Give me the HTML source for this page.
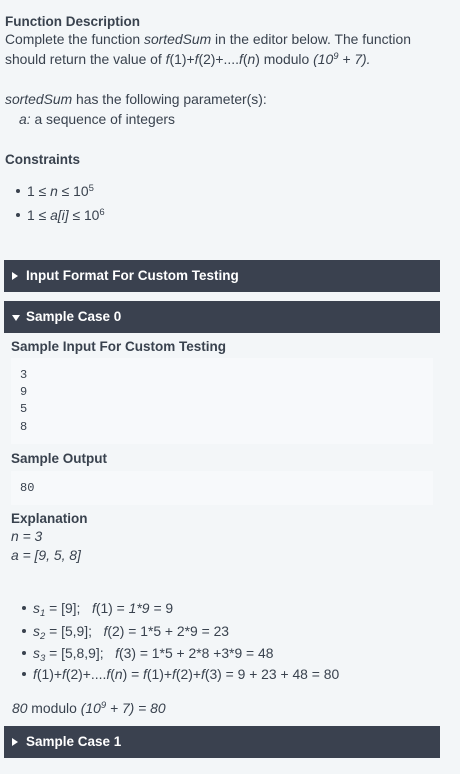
<!DOCTYPE html>
<html><head><style>
body{margin:0;width:460px;height:774px;background:#f3f6f8;position:relative;overflow:hidden;font-family:"Liberation Sans","DejaVu Sans",sans-serif;font-size:13.9px;color:#39424e}
.l{position:absolute;left:5px;line-height:18px;white-space:nowrap}
b{font-weight:bold;font-size:13.5px}
.bar{position:absolute;left:4px;width:436px;height:32px;background:#3a414f;color:#fff;font-weight:bold;font-size:13.5px;line-height:32px}
.bar span{position:absolute;left:22px}
.tri{position:absolute;left:8px;top:12px;width:0;height:0;border-top:4px solid transparent;border-bottom:4px solid transparent;border-left:6px solid #fff}
.trid{position:absolute;left:8px;top:14px;width:0;height:0;border-left:4px solid transparent;border-right:4px solid transparent;border-top:6px solid #fff}
.code{position:absolute;left:11px;width:422px;background:#f7f9fb;font-family:"Liberation Mono",monospace;font-size:12px}
.m{position:absolute;left:9px;line-height:17px}
.dot{display:inline-block;width:4px;height:4px;border-radius:2px;background:#39424e;margin:0 7px 2px 0;vertical-align:middle}
sup{font-size:9.5px;vertical-align:5px;line-height:0}
sub{font-size:9.5px;vertical-align:-3px;line-height:0}
</style></head><body>
<div class="l" style="top:12px"><b>Function Description</b></div>
<div class="l" style="top:30px">Complete the function <i>sortedSum</i> in the editor below. The function</div>
<div class="l" style="top:50px">should return the value of <i>f</i>(1)+<i>f</i>(2)+....<i>f</i>(<i>n</i>) modulo <i>(10<sup>9</sup> + 7).</i></div>
<div class="l" style="top:90px"><i>sortedSum</i> has the following parameter(s):</div>
<div class="l" style="top:110px;left:19px"><i>a:</i> a sequence of integers</div>
<div class="l" style="top:150px"><b>Constraints</b></div>
<div class="l" style="top:182px;left:16px"><span class="dot"></span>1 ≤ <i>n</i> ≤ 10<sup>5</sup></div>
<div class="l" style="top:206px;left:16px"><span class="dot"></span>1 ≤ <i>a[i]</i> ≤ 10<sup>6</sup></div>

<div class="bar" style="top:260px"><div class="tri"></div><span>Input Format For Custom Testing</span></div>
<div class="bar" style="top:301px"><div class="trid"></div><span>Sample Case 0</span></div>

<div class="l" style="top:337px;left:11px"><b>Sample Input For Custom Testing</b></div>
<div class="code" style="top:358px;height:86px">
<div class="m" style="top:9px">3</div><div class="m" style="top:26px">9</div><div class="m" style="top:43px">5</div><div class="m" style="top:61px">8</div></div>
<div class="l" style="top:449px;left:11px"><b>Sample Output</b></div>
<div class="code" style="top:471px;height:34px"><div class="m" style="top:9px">80</div></div>
<div class="l" style="top:509px;left:11px"><b>Explanation</b></div>
<div class="l" style="top:527px;left:11px"><i>n = 3</i></div>
<div class="l" style="top:546px;left:11px"><i>a = [9, 5, 8]</i></div>

<div class="l" style="top:599px;left:22px"><span class="dot"></span><i>s<sub>1</sub></i> = [9];&nbsp;&nbsp; <i>f</i>(1) = <i>1*9 =</i> 9</div>
<div class="l" style="top:622px;left:22px"><span class="dot"></span><i>s<sub>2</sub></i> = [5,9];&nbsp;&nbsp; <i>f</i>(2) = 1*5 + 2*9 = 23</div>
<div class="l" style="top:644px;left:22px"><span class="dot"></span><i>s<sub>3</sub></i> = [5,8,9];&nbsp;&nbsp; <i>f</i>(3) = 1*5 + 2*8 +3*9 = 48</div>
<div class="l" style="top:665px;left:22px"><span class="dot"></span><i>f</i>(1)+<i>f</i>(2)+....<i>f</i>(<i>n</i>) = <i>f</i>(1)+<i>f</i>(2)+<i>f</i>(3) = 9 + 23 + 48 = 80</div>
<div class="l" style="top:699px;left:12px"><i>80</i> modulo <i>(10<sup>9</sup> + 7) = 80</i></div>

<div class="bar" style="top:726px"><div class="tri"></div><span>Sample Case 1</span></div>
</body></html>
